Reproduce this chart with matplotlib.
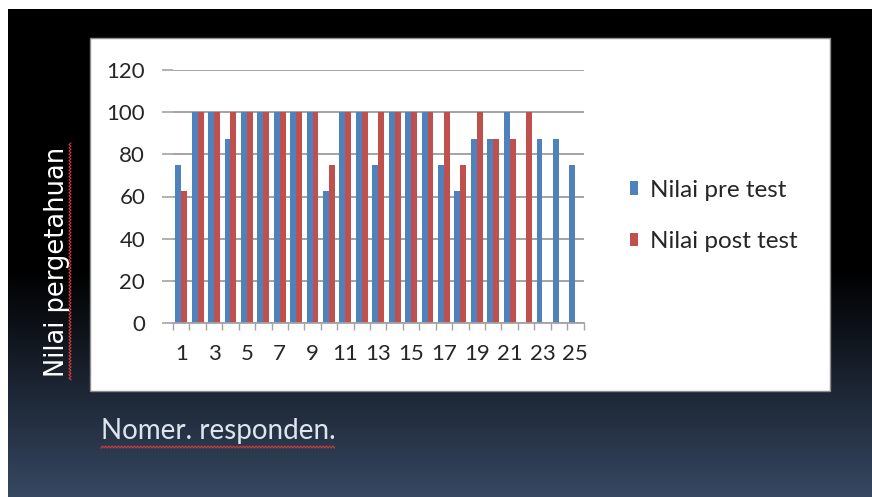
import numpy as np
import matplotlib
matplotlib.use("Agg")
import matplotlib.pyplot as plt
from matplotlib.patches import Rectangle, Patch

# Scores per respondent (0 = no bar drawn)
respondents = list(range(1, 26))
pre_test = [75, 100, 100, 87.5, 100, 100, 100, 100, 100, 62.5, 100, 100, 75,
            100, 100, 100, 75, 62.5, 87.5, 87.5, 100, 0, 87.5, 87.5, 75]
post_test = [62.5, 100, 100, 100, 100, 100, 100, 100, 100, 75, 100, 100, 100,
             100, 100, 100, 100, 75, 100, 87.5, 87.5, 100, 0, 0, 0]
y_ticks = [0, 20, 40, 60, 80, 100, 120]
x_labels = [str(n) for n in respondents if n % 2 == 1]
series_names = ["Nilai pre test", "Nilai post test"]
y_title = "Nilai pergetahuan"
x_title = "Nomer. responden."

BLUE = "#4F81BD"
RED = "#C0504D"
GRID = "#a3a3a3"
TXT = "#262626"

W, H = 872, 497
fig = plt.figure(figsize=(W / 100, H / 100), dpi=100)

# ---- slide background: black fading into dark blue, pixel coordinates ----
bg = fig.add_axes([0, 0, 1, 1], zorder=-10)
bg.set_axis_off()
rows = np.arange(H)
t = np.clip((rows - 270) / (H - 270), 0, 1)
top = np.array([0.0, 0.0, 0.0])
bottom = np.array([0x36, 0x48, 0x62]) / 255
grad = top + t[:, None] * (bottom - top)
img = np.repeat(grad[:, None, :], W, axis=1)
img[:9, :, :] = 1.0
img[:, :8, :] = 1.0
bg.imshow(img, aspect="auto", extent=[0, W, H, 0], interpolation="bilinear")
bg.set_xlim(0, W)
bg.set_ylim(H, 0)

# white chart panel
bg.add_patch(Rectangle((90, 38), 740, 353, facecolor="white",
                       edgecolor="#8c8c8c", lw=1.0))

# axis titles on the slide
bg.text(57, 262, y_title, rotation=90, color="white", fontsize=18.5,
        family="DejaVu Sans", ha="center", va="center")
ys = np.arange(143, 381, 1.6)
xs = 70 + 1.0 * (-1) ** np.arange(len(ys))
bg.plot(xs, ys, color="#d23a3a", lw=0.8)

bg.text(101, 431, x_title, color="#dfe5ee", fontsize=20, family="Lato",
        ha="left", va="center")
xs2 = np.arange(101, 336, 1.6)
ys2 = 447 + 1.0 * (-1) ** np.arange(len(xs2))
bg.plot(xs2, ys2, color="#d23a3a", lw=0.8)

# ---- bar chart ----
ax = fig.add_axes([173 / W, 1 - 323 / H, (583.5 - 173) / W, (323 - 70) / H])
x = np.arange(len(respondents))
w = 0.36
ax.bar(x - w / 2, pre_test, width=w, color=BLUE, zorder=3)
ax.bar(x + w / 2, post_test, width=w, color=RED, zorder=3)

ax.set_xlim(-0.5, len(respondents) - 0.5)
ax.set_ylim(0, 120)
ax.set_yticks(y_ticks)
ax.set_yticklabels([str(v) for v in y_ticks], fontsize=16, family="Lato",
                   color=TXT)
ax.yaxis.grid(True, color=GRID, lw=1.4, zorder=0)
ax.set_axisbelow(True)
ax.tick_params(axis="y", length=8, width=1.2, color=GRID, pad=12)

odd_pos = [i for i, n in enumerate(respondents) if n % 2 == 1]
ax.set_xticks(odd_pos)
ax.set_xticklabels(x_labels, fontsize=16, family="Lato", color=TXT)
ax.set_xticks(np.arange(len(respondents) + 1) - 0.5, minor=True)
ax.tick_params(axis="x", which="major", length=0, pad=15)
ax.tick_params(axis="x", which="minor", length=5, width=1, color=GRID)

for side in ("left", "right", "top"):
    ax.spines[side].set_visible(False)
ax.spines["bottom"].set_color(GRID)
ax.spines["bottom"].set_linewidth(1.3)
ax.spines["bottom"].set_zorder(4)
ax.patch.set_alpha(0)

handles = [Patch(facecolor=BLUE), Patch(facecolor=RED)]
leg = ax.legend(handles, series_names, loc="center left",
                bbox_to_anchor=(630 / W, 1 - 216 / H),
                bbox_transform=fig.transFigure, frameon=False,
                prop={"family": "Lato", "size": 17.5},
                handlelength=0.33, handleheight=0.5, handletextpad=0.5,
                labelspacing=1.25, borderpad=0, borderaxespad=0)
for txt in leg.get_texts():
    txt.set_color(TXT)

fig.savefig("out.png", dpi=100)
